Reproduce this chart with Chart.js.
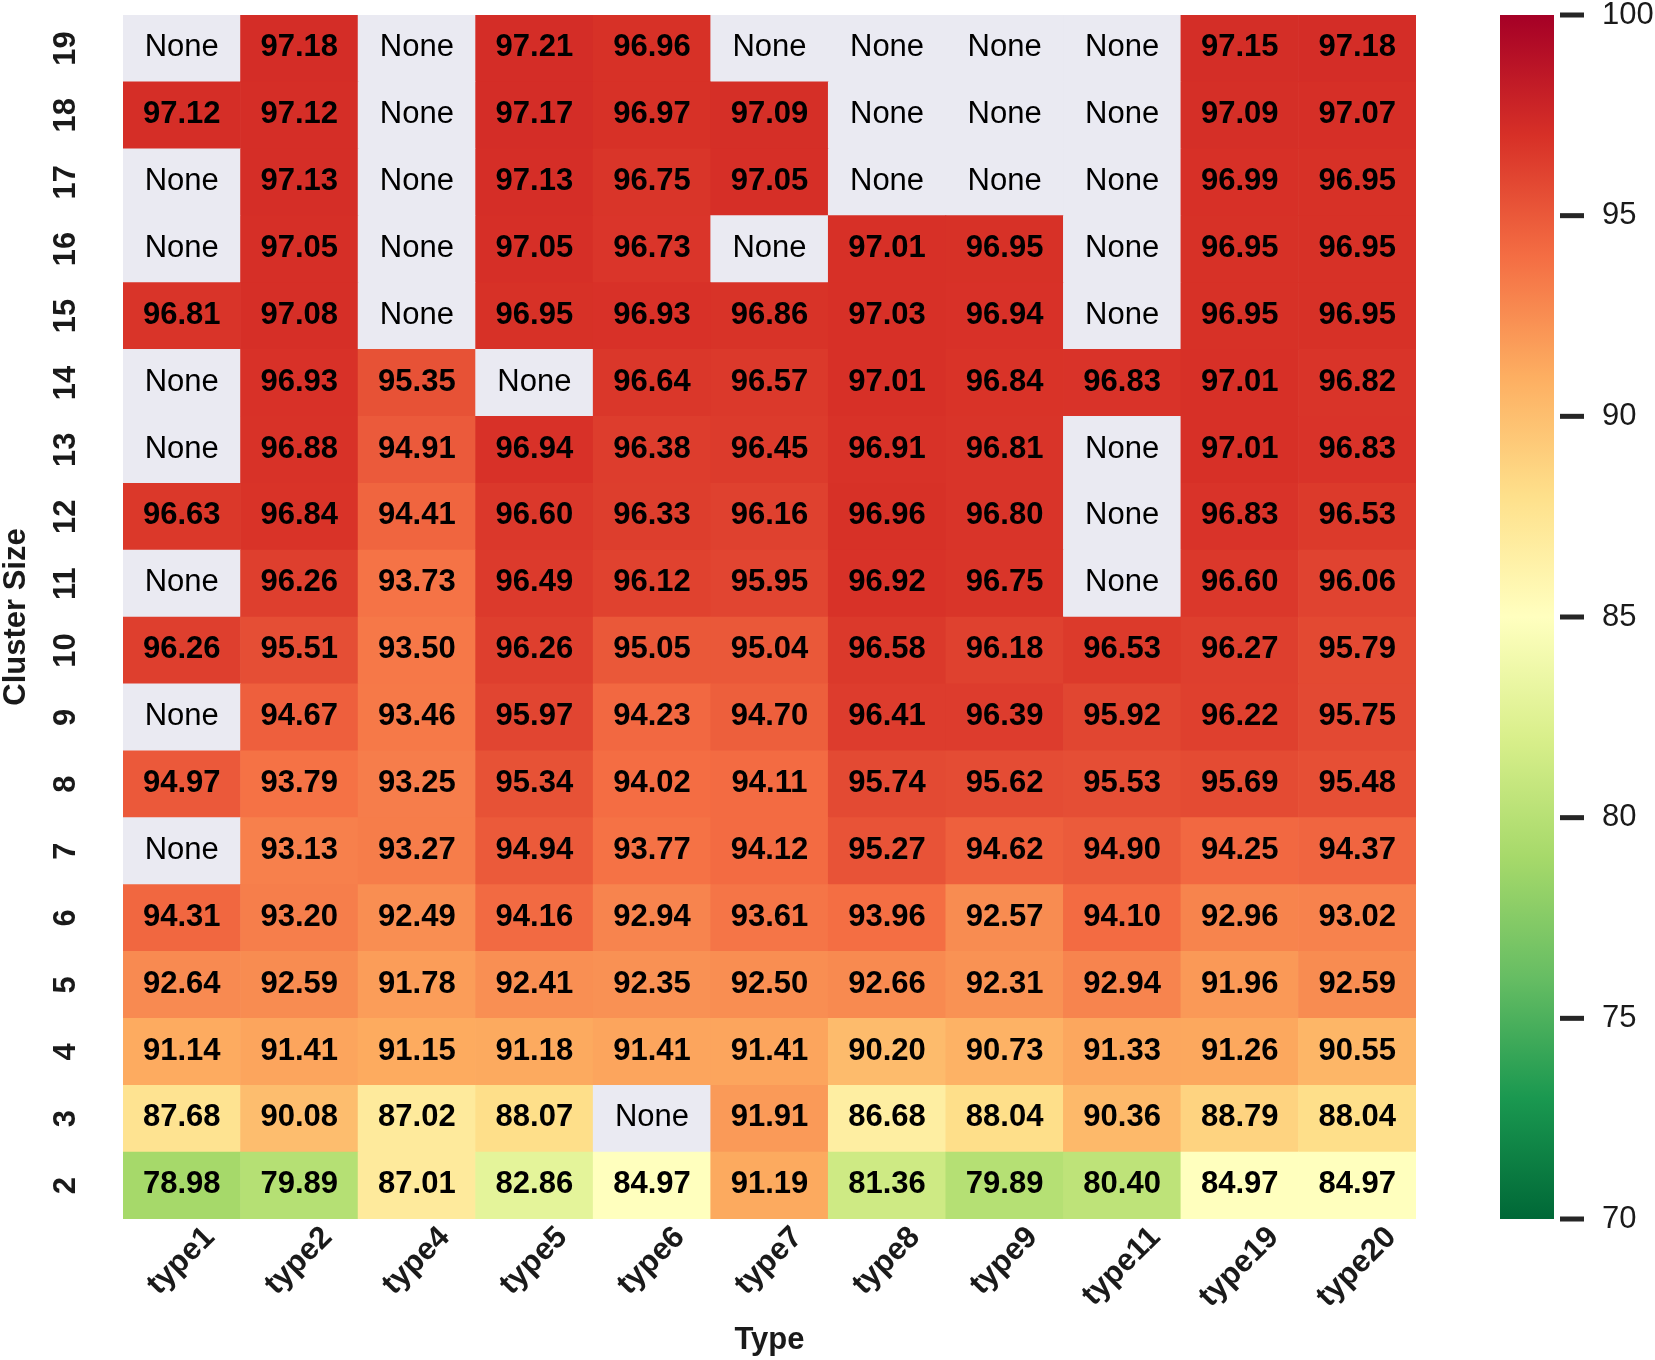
<!DOCTYPE html>
<html>
<head>
<meta charset="utf-8">
<script src="https://cdn.jsdelivr.net/npm/chart.js@4.4.1/dist/chart.umd.min.js"></script>
<style>
html,body{margin:0;padding:0;background:#fff;}
canvas{display:block;}
</style>
</head>
<body>
<canvas id="c" width="1655" height="1360"></canvas>
<script>
// ---- data ----
const types = ['type1','type2','type4','type5','type6','type7','type8','type9','type11','type19','type20'];
const clusterSizes = [2,3,4,5,6,7,8,9,10,11,12,13,14,15,16,17,18,19];
// values per type, cluster size 2 -> 19 (null = None)
const type1  = [78.98,87.68,91.14,92.64,94.31,null,94.97,null,96.26,null,96.63,null,null,96.81,null,null,97.12,null];
const type2  = [79.89,90.08,91.41,92.59,93.20,93.13,93.79,94.67,95.51,96.26,96.84,96.88,96.93,97.08,97.05,97.13,97.12,97.18];
const type4  = [87.01,87.02,91.15,91.78,92.49,93.27,93.25,93.46,93.50,93.73,94.41,94.91,95.35,null,null,null,null,null];
const type5  = [82.86,88.07,91.18,92.41,94.16,94.94,95.34,95.97,96.26,96.49,96.60,96.94,null,96.95,97.05,97.13,97.17,97.21];
const type6  = [84.97,null,91.41,92.35,92.94,93.77,94.02,94.23,95.05,96.12,96.33,96.38,96.64,96.93,96.73,96.75,96.97,96.96];
const type7  = [91.19,91.91,91.41,92.50,93.61,94.12,94.11,94.70,95.04,95.95,96.16,96.45,96.57,96.86,null,97.05,97.09,null];
const type8  = [81.36,86.68,90.20,92.66,93.96,95.27,95.74,96.41,96.58,96.92,96.96,96.91,97.01,97.03,97.01,null,null,null];
const type9  = [79.89,88.04,90.73,92.31,92.57,94.62,95.62,96.39,96.18,96.75,96.80,96.81,96.84,96.94,96.95,null,null,null];
const type11 = [80.40,90.36,91.33,92.94,94.10,94.90,95.53,95.92,96.53,null,null,null,96.83,null,null,null,null,null];
const type19 = [84.97,88.79,91.26,91.96,92.96,94.25,95.69,96.22,96.27,96.60,96.83,97.01,97.01,96.95,96.95,96.99,97.09,97.15];
const type20 = [84.97,88.04,90.55,92.59,93.02,94.37,95.48,95.75,95.79,96.06,96.53,96.83,96.82,96.95,96.95,96.95,97.07,97.18];
const series = [type1,type2,type4,type5,type6,type7,type8,type9,type11,type19,type20];
const colorMin = 70, colorMax = 100;

// ---- colormap (RdYlGn reversed) ----
const stops = ['#006837','#1a9850','#66bd63','#a6d96a','#d9ef8b','#ffffbf','#fee08b','#fdae61','#f46d43','#d73027','#a50026'];
const noneColor = '#eaeaf2';
function hex(h){return [parseInt(h.substr(1,2),16),parseInt(h.substr(3,2),16),parseInt(h.substr(5,2),16)];}
function colorFor(v){
  if (v === null) return noneColor;
  let t = (v - colorMin)/(colorMax - colorMin);
  t = Math.max(0, Math.min(1, t));
  const p = t*(stops.length-1);
  const i = Math.min(Math.floor(p), stops.length-2);
  const f = p - i;
  const a = hex(stops[i]), b = hex(stops[i+1]);
  const c = a.map((x,k)=>Math.round(x + (b[k]-x)*f));
  return 'rgb('+c[0]+','+c[1]+','+c[2]+')';
}

const FONT = '"Liberation Sans", Arial, Helvetica, sans-serif';
const TXT = '#1a1a1a';

const datasets = clusterSizes.map((c, r) => ({
  label: String(c),
  xAxisID: 'x',
  yAxisID: 'y',
  data: types.map((t, j) => ({x: t, y: 1, v: series[j][r]})),
  backgroundColor: types.map((t, j) => colorFor(series[j][r])),
  borderWidth: 0,
  barPercentage: 1,
  categoryPercentage: 1
}));

const heatPlugin = {
  id: 'heat',
  afterDatasetsDraw(chart) {
    const ctx = chart.ctx;
    const area = chart.chartArea;
    ctx.save();
    ctx.fillStyle = '#000';
    ctx.textAlign = 'center';
    ctx.textBaseline = 'alphabetic';
    chart.data.datasets.forEach((ds, di) => {
      const meta = chart.getDatasetMeta(di);
      meta.data.forEach((bar, j) => {
        const v = ds.data[j].v;
        const cx = bar.x, cy = (bar.y + bar.base) / 2;
        ctx.font = (v === null ? '' : 'bold ') + '31px ' + FONT;
        ctx.fillText(v === null ? 'None' : v.toFixed(2), cx, cy + 7.8);
      });
    });

    // colorbar
    const s = chart.scales.cb;
    const top = s.getPixelForValue(colorMax), bot = s.getPixelForValue(colorMin);
    const x0 = s.left + 84, x1 = s.left + 138;
    const g = ctx.createLinearGradient(0, bot, 0, top);
    stops.forEach((c, k) => g.addColorStop(k/(stops.length-1), c));
    ctx.fillStyle = g;
    ctx.fillRect(x0, top, x1 - x0, bot - top);
    ctx.fillStyle = '#262626';
    s.ticks.forEach(t => {
      const y = s.getPixelForValue(t.value);
      ctx.fillRect(s.left + 144, y - 2.5, 24, 5);
    });

    // y tick labels (rotated)
    const ys = chart.scales.y;
    ctx.fillStyle = TXT;
    ctx.font = 'bold 31px ' + FONT;
    clusterSizes.forEach((c, r) => {
      const y = ys.getPixelForValue(r + 0.5);
      ctx.save();
      ctx.translate(75, y);
      ctx.rotate(-Math.PI/2);
      ctx.textAlign = 'center';
      ctx.fillText(String(c), 0, 0);
      ctx.restore();
    });

    // x tick labels (45 deg)
    const xs = chart.scales.x;
    types.forEach((t, i) => {
      const x = xs.getPixelForValue(i);
      const W = ctx.measureText(t).width;
      const cy = area.bottom + 3 + (W + 31) * 0.3536;
      ctx.save();
      ctx.translate(x, cy);
      ctx.rotate(-Math.PI/4);
      ctx.textAlign = 'center';
      ctx.fillText(t, 0, 0.25*31);
      ctx.restore();
    });

    // axis titles
    ctx.textAlign = 'center';
    ctx.fillText('Type', (area.left + area.right)/2, 1349);
    ctx.save();
    ctx.translate(25, (area.top + area.bottom)/2);
    ctx.rotate(-Math.PI/2);
    ctx.fillText('Cluster Size', 0, 0);
    ctx.restore();
    ctx.restore();
  }
};

new Chart(document.getElementById('c'), {
  type: 'bar',
  data: { labels: types, datasets: datasets },
  options: {
    responsive: false,
    animation: false,
    devicePixelRatio: 1,
    layout: { padding: { top: 15, left: 0, right: 0, bottom: 0 } },
    plugins: { legend: { display: false }, tooltip: { enabled: false }, title: { display: false } },
    scales: {
      x: {
        type: 'category', stacked: true, offset: true,
        grid: { display: false }, border: { display: false },
        ticks: { display: false },
        afterFit(s) { s.height = 141; s.paddingLeft = 0; s.paddingRight = 0; }
      },
      y: {
        type: 'linear', stacked: true, min: 0, max: clusterSizes.length,
        grid: { display: false }, border: { display: false },
        ticks: { display: false },
        afterFit(s) { s.width = 123; s.paddingTop = 0; s.paddingBottom = 0; }
      },
      cb: {
        axis: 'y', type: 'linear', position: 'right', min: colorMin, max: colorMax,
        grid: { display: false, drawTicks: false }, border: { display: false },
        ticks: { stepSize: 5, padding: 186, color: TXT, font: { family: FONT, size: 31 } },
        afterFit(s) { s.width = 239; s.paddingTop = 0; s.paddingBottom = 0; }
      }
    }
  },
  plugins: [heatPlugin]
});
</script>
</body>
</html>
